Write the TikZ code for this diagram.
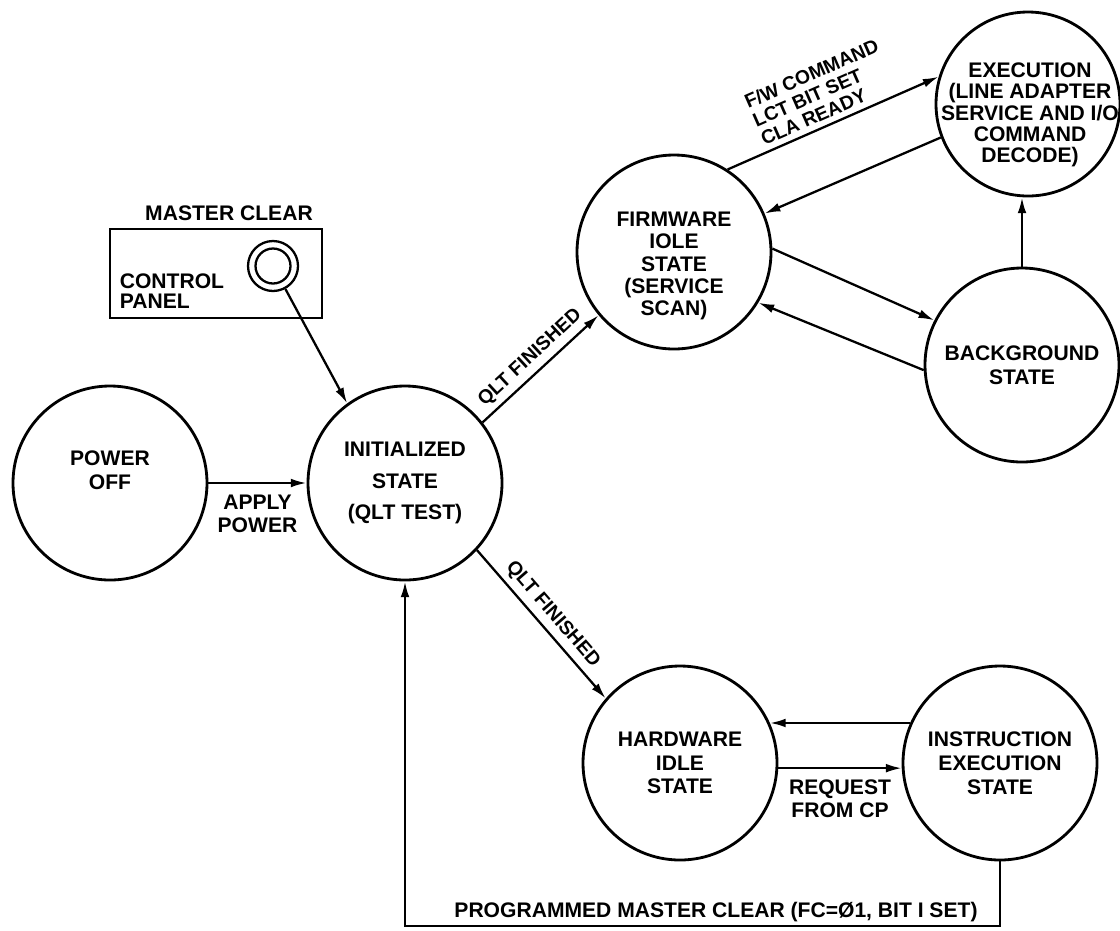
\documentclass[tikz,border=0pt]{standalone}
\usepackage{fontspec}
\setmainfont{Liberation Sans}
\usetikzlibrary{arrows.meta}

\begin{document}
\begin{tikzpicture}[x=0.2mm, y=-0.2mm, >={Latex[length=9pt,width=5pt]},
    st/.style={circle, draw, line width=1.6pt, minimum size=38.8mm, inner sep=0,
      align=center, font=\fontsize{12}{13.5}\selectfont\bfseries},
    txt/.style={align=center, inner sep=0, font=\fontsize{12}{12.6}\selectfont\bfseries},
    lbl/.style={font=\fontsize{12}{13}\selectfont\bfseries, align=center, inner sep=2pt},
    slbl/.style={font=\fontsize{11}{11.5}\selectfont\bfseries, sloped, above, inner sep=3pt},
    arr/.style={->, line width=1.3pt}]
  \useasboundingbox (0,0) rectangle (1120,930);
  % states
  \node[st] (pwr) at (110,483) {};
  \node[txt, font=\fontsize{12}{13.5}\selectfont\bfseries] (pwrtxt) at (110,470) {POWER\\OFF};
  \node[st, font=\fontsize{12}{18}\selectfont\bfseries] (init) at (405,483) {INITIALIZED\\STATE\\(QLT TEST)};
  \node[st] (fw) at (674,252) {};
  \node[txt] (fwtxt) at (674,266) {FIRMWARE\\IOLE\\STATE\\(SERVICE\\SCAN)};
  \node[st, minimum size=36.8mm] (ex) at (1028,104) {};
  \node[txt, font=\fontsize{12}{12.1}\selectfont\bfseries] (extxt) at (1030,115)
    {EXECUTION\\(LINE ADAPTER\\SERVICE AND I/O\\COMMAND\\DECODE)};
  \node[st] (bg) at (1022,365) {BACKGROUND\\STATE};
  \node[st] (hw) at (680,763) {HARDWARE\\IDLE\\STATE};
  \node[st] (instr) at (1000,763) {INSTRUCTION\\EXECUTION\\STATE};
  % control panel
  \node[draw, line width=1.5pt, minimum width=42.4mm, minimum height=17.8mm, inner sep=0] (panel) at (216,273.5) {};
  \node[lbl, anchor=west, align=left, font=\fontsize{12}{11}\selectfont\bfseries] (cp) at (116,291) {CONTROL\\PANEL};
  \node[lbl] (mc) at (229,213) {MASTER CLEAR};
  \node[circle, draw, line width=1.3pt, minimum size=10mm, inner sep=0] (btn) at (273,266) {};
  \node[circle, draw, line width=1.3pt, minimum size=7mm, inner sep=0] (btnin) at (273,266) {};
  % transitions
  \draw[arr] (btn) -- (init.126);
  \draw[arr] (pwr) -- node[lbl, below=4pt] {APPLY\\POWER} (init);
  \draw[arr] (init.38) -- node[slbl] {QLT FINISHED} (fw.220);
  \draw[arr] (init.-43) -- node[slbl] {QLT FINISHED} (hw.139);
  \draw[arr] (fw.57) -- node[slbl, align=left] {F/W COMMAND\\LCT BIT SET\\CLA READY} (ex.163);
  \draw[arr] (ex.201) -- (fw.23);
  \draw[arr] (fw.2) -- (bg.153);
  \draw[arr] (bg.183) -- (fw.-31);
  \draw[arr] (bg.north) -- (bg.north |- ex.south);
  \draw[arr] (instr.156) -- (hw.24);
  \draw[arr] (hw.-3) -- node[lbl, below=4pt] {REQUEST\\FROM CP} (instr.183);
  \coordinate (pmc) at (716,926);
  \draw[arr] (instr.south) |- (pmc) -| (init.south);
  \node[lbl, anchor=south] (pmctxt) at (pmc) {PROGRAMMED MASTER CLEAR (FC=Ø1, BIT I SET)};
\end{tikzpicture}
\end{document}
